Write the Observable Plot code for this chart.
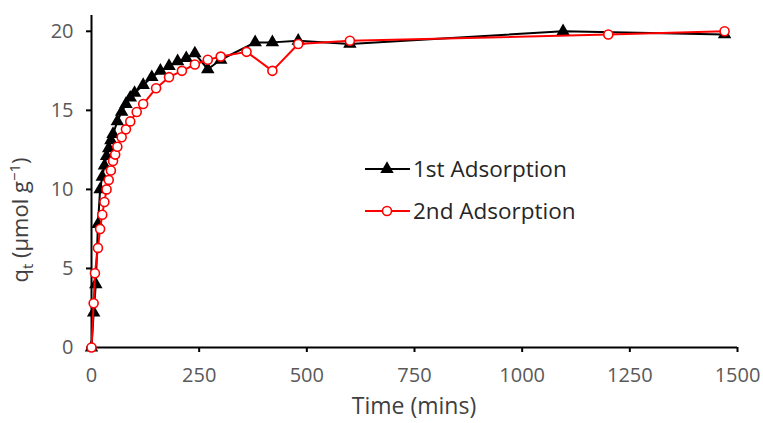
<!DOCTYPE html>
<html>
<head>
<meta charset="utf-8">
<script src="https://cdn.jsdelivr.net/npm/d3@7"></script>
<script src="https://cdn.jsdelivr.net/npm/@observablehq/plot@0.6"></script>
<style>
  html, body { margin: 0; padding: 0; background: #fff; }
  #chart svg { display: block; }
</style>
</head>
<body>
<div id="chart"></div>
<script>
// 1st adsorption (black triangles)
const time1 = [0, 5, 10, 15, 20, 25, 30, 35, 40, 45, 50, 60, 70, 80, 90, 100, 120, 140, 160, 180, 200, 220, 240, 270, 300, 380, 420, 480, 600, 1095, 1470];
const q1    = [0, 2.2, 4.0, 7.8, 10.0, 10.8, 11.5, 12.1, 12.6, 13.1, 13.5, 14.3, 14.9, 15.4, 15.8, 16.1, 16.6, 17.1, 17.5, 17.8, 18.1, 18.3, 18.6, 17.6, 18.2, 19.3, 19.3, 19.4, 19.2, 20.0, 19.8];
// 2nd adsorption (red open circles)
const time2 = [0, 5, 8, 15, 20, 25, 30, 35, 40, 45, 50, 55, 60, 70, 80, 90, 105, 120, 150, 180, 210, 240, 270, 300, 360, 420, 480, 600, 1200, 1470];
const q2    = [0, 2.8, 4.7, 6.3, 7.5, 8.4, 9.2, 10.0, 10.6, 11.2, 11.8, 12.2, 12.7, 13.3, 13.8, 14.3, 14.9, 15.4, 16.4, 17.1, 17.5, 17.9, 18.2, 18.4, 18.7, 17.5, 19.2, 19.4, 19.8, 20.0];
const xTicks = [0, 250, 500, 750, 1000, 1250, 1500];
const yTicks = [0, 5, 10, 15, 20];
const seriesNames = ["1st Adsorption", "2nd Adsorption"];
const xTitle = "Time (mins)";

const s1 = time1.map((t, i) => ({t, q: q1[i]}));
const s2 = time2.map((t, i) => ({t, q: q2[i]}));

const FONT = "'Open Sans', sans-serif";
const plot = Plot.plot({
  width: 763,
  height: 423,
  marginLeft: 91,
  marginRight: 26,
  marginTop: 15,
  marginBottom: 76,
  style: {fontFamily: FONT, background: "#fff", overflow: "visible"},
  x: {domain: [0, 1500], ticks: xTicks},
  y: {domain: [0, 21], ticks: yTicks},
  marks: [
    Plot.axisX({ticks: xTicks, tickFormat: d3.format("d"), tickSize: 5, tickPadding: 15, fontSize: 20, fill: "#595959", stroke: "#000", strokeWidth: 2, label: null}),
    Plot.axisY({ticks: yTicks, tickSize: 5, tickPadding: 13, fontSize: 20, fill: "#595959", stroke: "#000", strokeWidth: 2, label: null}),
    Plot.ruleX([0], {stroke: "#000", strokeWidth: 2}),
    Plot.ruleY([0], {stroke: "#000", strokeWidth: 2}),
    Plot.line(s1, {x: "t", y: "q", stroke: "#000", strokeWidth: 2}),
    Plot.dot(s1, {x: "t", y: "q", symbol: "triangle", r: 5, fill: "#000", stroke: "none"}),
    Plot.line(s2, {x: "t", y: "q", stroke: "#ff0000", strokeWidth: 2}),
    Plot.dot(s2, {x: "t", y: "q", symbol: "circle", r: 4.5, fill: "#fff", stroke: "#ff0000", strokeWidth: 1.6})
  ]
});
document.getElementById("chart").appendChild(plot);

const svg = d3.select(plot);
const xs = plot.scale("x");

// x-axis title
svg.append("text")
  .attr("x", xs.apply(750)).attr("y", 414)
  .attr("text-anchor", "middle")
  .attr("font-family", FONT).attr("font-size", 23).attr("fill", "#404040")
  .text(xTitle);

// y-axis label with subscript and superscript
const yl = svg.append("text")
  .attr("transform", "translate(28,220) rotate(-90)")
  .attr("text-anchor", "middle")
  .attr("font-family", FONT)
  .attr("font-size", 22)
  .attr("fill", "#404040");
yl.append("tspan").text("q");
yl.append("tspan").attr("font-size", 15).attr("dy", 5).text("t");
yl.append("tspan").attr("dy", -5).text(" (\u00B5mol g");
yl.append("tspan").attr("font-size", 15).attr("dy", -8).text("\u22121");
yl.append("tspan").attr("dy", 8).text(")");

// legend
const lg = svg.append("g").attr("font-family", FONT).attr("font-size", 22.5).attr("fill", "#262626").attr("text-anchor", "start");
const rows = [
  {name: seriesNames[0], y: 169, color: "#000", tri: true},
  {name: seriesNames[1], y: 211, color: "#ff0000", tri: false}
];
rows.forEach(r => {
  lg.append("line").attr("x1", 365).attr("x2", 410).attr("y1", r.y).attr("y2", r.y)
    .attr("stroke", r.color).attr("stroke-width", 2);
  if (r.tri) {
    lg.append("path").attr("d", d3.symbol(d3.symbolTriangle, Math.PI * 25)()).attr("transform", `translate(387,${r.y})`).attr("fill", "#000");
  } else {
    lg.append("circle").attr("cx", 387).attr("cy", r.y).attr("r", 4.5).attr("fill", "#fff").attr("stroke", "#ff0000").attr("stroke-width", 1.6);
  }
  lg.append("text").attr("x", 413).attr("y", r.y).attr("dy", "0.35em").text(r.name);
});
</script>
</body>
</html>
